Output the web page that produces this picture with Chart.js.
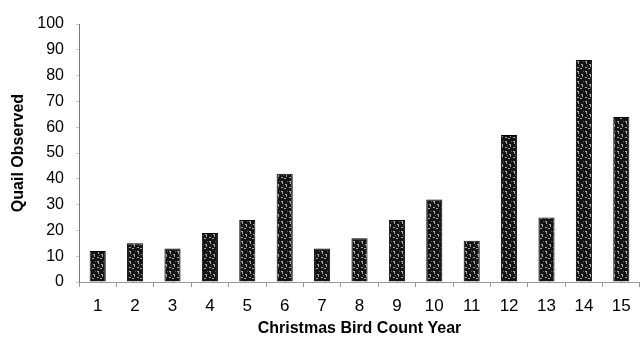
<!DOCTYPE html>
<html>
<head>
<meta charset="utf-8">
<script src="https://cdn.jsdelivr.net/npm/chart.js@4/dist/chart.umd.min.js"></script>
<style>
  html, body { margin: 0; padding: 0; background: #fff; }
  #wrap { width: 640px; height: 343px; }
</style>
</head>
<body>
<div id="wrap"><canvas id="quailChart" width="640" height="343"></canvas></div>
<script>
const years = ['1', '2', '3', '4', '5', '6', '7', '8', '9', '10', '11', '12', '13', '14', '15'];
const quail = [12, 15, 13, 19, 24, 42, 13, 17, 24, 32, 16, 57, 25, 86, 64];
const yTicks = [0, 10, 20, 30, 40, 50, 60, 70, 80, 90, 100];

// speckled fill like the scanned bars
function speckle() {
    const c = document.createElement('canvas');
    c.width = 8;
    c.height = 10;
    const g = c.getContext('2d');
    g.fillStyle = '#141414';
    g.fillRect(0, 0, 8, 10);
    g.fillStyle = '#a8a8a8';
    g.fillRect(1, 1, 2, 1);
    g.fillRect(2, 2, 1, 2);
    g.fillRect(5, 4, 2, 1);
    g.fillRect(6, 5, 1, 2);
    g.fillRect(1, 7, 2, 1);
    g.fillRect(4, 8, 2, 1);
    g.fillStyle = '#5a5a5a';
    g.fillRect(3, 5, 1, 1);
    g.fillRect(7, 1, 1, 1);
    return g.createPattern(c, 'repeat');
}

const family = 'Arial, "Liberation Sans", sans-serif';

new Chart(document.getElementById('quailChart').getContext('2d'), {
    type: 'bar',
    data: {
        labels: years,
        datasets: [{
            data: quail,
            backgroundColor: speckle(),
            borderColor: '#000',
            borderWidth: 1,
            barPercentage: 0.43,
            categoryPercentage: 1
        }]
    },
    options: {
        responsive: false,
        animation: false,
        layout: { padding: { top: 24, right: 0, left: 0, bottom: 0 } },
        plugins: {
            legend: { display: false },
            tooltip: { enabled: false }
        },
        scales: {
            x: {
                grid: {
                    offset: true,
                    drawOnChartArea: false,
                    tickLength: 5,
                    color: '#999'
                },
                border: { color: '#999', width: 1 },
                ticks: { color: '#000', font: { family: family, size: 17 }, padding: 9 },
                title: {
                    display: true,
                    text: 'Christmas Bird Count Year',
                    color: '#000',
                    font: { family: family, size: 16, weight: 'bold' },
                    padding: { top: 0, bottom: 5 }
                },
                afterFit: (scale) => { scale.height = 61; }
            },
            y: {
                min: 0,
                max: 100,
                afterBuildTicks: (scale) => { scale.ticks = yTicks.map(v => ({ value: v })); },
                grid: {
                    drawOnChartArea: false,
                    tickLength: 3,
                    color: '#ccc'
                },
                border: { color: '#777', width: 1 },
                ticks: { color: '#000', font: { family: family, size: 16 }, padding: 12 },
                title: {
                    display: true,
                    text: 'Quail Observed',
                    color: '#000',
                    font: { family: family, size: 16, weight: 'bold' },
                    padding: { top: 9, bottom: 0 }
                },
                afterFit: (scale) => { scale.width = 79; }
            }
        }
    }
});
</script>
</body>
</html>
